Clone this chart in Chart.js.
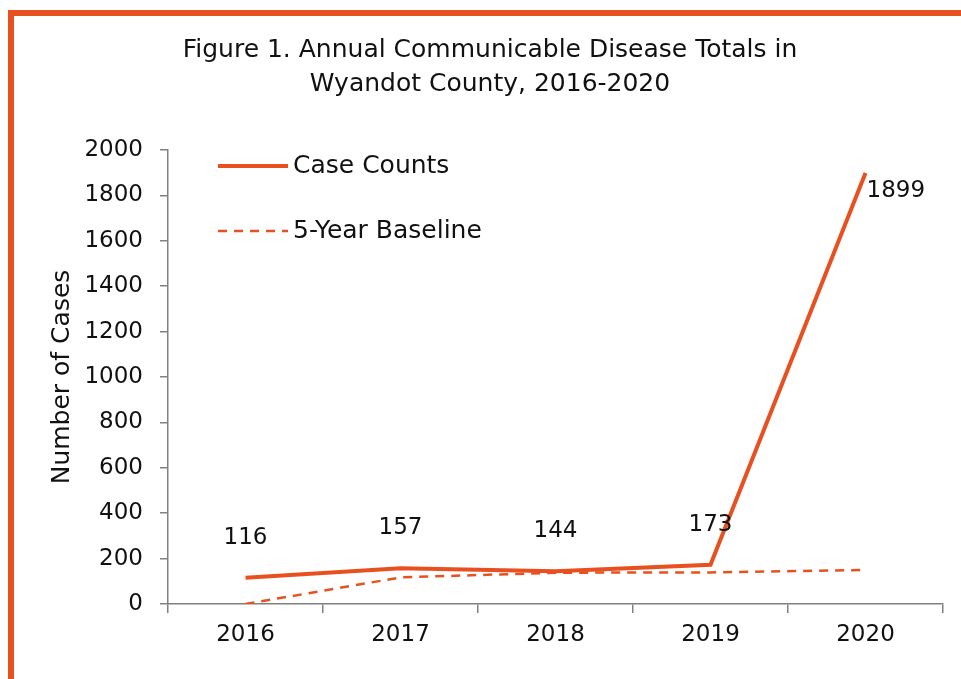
<!DOCTYPE html>
<html lang="en">
<head>
<meta charset="UTF-8">
<title>Wyandot County</title>
<script src="https://cdn.jsdelivr.net/npm/chart.js"></script>
<style>
    * { margin: 0; padding: 0; }
    body { background: #fff; width: 961px; height: 679px; overflow: hidden; position: relative; }
    .moldura {
        position: absolute;
        left: 8px;
        top: 10px;
        width: 1000px;
        height: 1000px;
        border-left: 6px solid #E9501F;
        border-top: 6px solid #E9501F;
    }
    .caixa { position: absolute; left: 0; top: 0; width: 961px; height: 679px; }
</style>
</head>
<body>
<div class="moldura"></div>
<div class="caixa"><canvas id="grafico" width="961" height="679"></canvas></div>
<script>
const anos = ['2016', '2017', '2018', '2019', '2020'];
const casos = [116, 157, 144, 173, 1899];
const baseline = [0, 117, 138, 139, 150];
const ticksY = [0, 200, 400, 600, 800, 1000, 1200, 1400, 1600, 1800, 2000];

const cor = '#E9501F';
const fonte = "'DejaVu Sans', sans-serif";

// rotulos de valor da serie Case Counts
const rotulos = {
    id: 'rotulos',
    afterDatasetsDraw(chart) {
        const ctx = chart.ctx;
        const meta = chart.getDatasetMeta(0);
        ctx.save();
        ctx.font = '23px ' + fonte;
        ctx.fillStyle = '#111';
        ctx.textBaseline = 'middle';
        meta.data.forEach((p, i) => {
            const v = casos[i];
            if (p.y < chart.chartArea.top + 60) {
                ctx.textAlign = 'left';
                ctx.fillText(v, p.x + 1, p.y + 18);
            } else {
                ctx.textAlign = 'center';
                ctx.fillText(v, p.x, p.y - 40);
            }
        });
        ctx.restore();
    }
};

// legenda dentro da area do grafico
const legenda = {
    id: 'legenda',
    afterDraw(chart) {
        const ctx = chart.ctx;
        const a = chart.chartArea;
        ctx.save();
        ctx.font = '25px ' + fonte;
        ctx.fillStyle = '#111';
        ctx.textBaseline = 'middle';
        chart.data.datasets.forEach((ds, i) => {
            const y = a.top + 16 + i * 65;
            const x = a.left + 50;
            ctx.beginPath();
            ctx.strokeStyle = ds.borderColor;
            ctx.lineWidth = ds.borderWidth;
            ctx.setLineDash(ds.borderDash || []);
            ctx.moveTo(x, y);
            ctx.lineTo(x + 70, y);
            ctx.stroke();
            ctx.setLineDash([]);
            ctx.fillText(ds.label, x + 75, y);
        });
        ctx.restore();
    }
};

new Chart(document.getElementById('grafico'), {
    type: 'line',
    data: {
        labels: anos,
        datasets: [{
            label: 'Case Counts',
            data: casos,
            borderColor: cor,
            borderWidth: 4,
            pointRadius: 0,
            tension: 0
        }, {
            label: '5-Year Baseline',
            data: baseline,
            borderColor: cor,
            borderWidth: 2.5,
            borderDash: [9, 7],
            pointRadius: 0,
            tension: 0
        }]
    },
    options: {
        responsive: false,
        animation: false,
        layout: { padding: { left: 37, right: 18, top: 0, bottom: 0 } },
        plugins: {
            legend: { display: false },
            tooltip: { enabled: false },
            title: {
                display: true,
                text: ['Figure 1. Annual Communicable Disease Totals in', 'Wyandot County, 2016-2020'],
                color: '#111',
                font: { family: fonte, size: 25, weight: 'normal', lineHeight: 1.36 },
                padding: { top: 33, bottom: 49 }
            }
        },
        scales: {
            x: {
                offset: true,
                grid: {
                    offset: true,
                    drawOnChartArea: false,
                    drawTicks: true,
                    tickLength: 9,
                    color: '#808080',
                    lineWidth: 1.5
                },
                border: { color: '#808080', width: 1.5 },
                ticks: { color: '#111', font: { family: fonte, size: 23 }, padding: 8 },
                afterFit(scale) { scale.height = 75; }
            },
            y: {
                min: 0,
                max: 2000,
                afterBuildTicks(scale) { scale.ticks = ticksY.map(v => ({ value: v })); },
                grid: {
                    drawOnChartArea: false,
                    drawTicks: true,
                    tickLength: 8,
                    color: '#808080',
                    lineWidth: 1.5
                },
                border: { color: '#808080', width: 1.5 },
                ticks: {
                    color: '#111',
                    font: { family: fonte, size: 23 },
                    padding: 17,
                    callback: v => String(v)
                },
                title: {
                    display: true,
                    text: 'Number of Cases',
                    color: '#111',
                    font: { family: fonte, size: 25 },
                    padding: { top: 10, bottom: 0 }
                },
                afterFit(scale) { scale.width = 131; }
            }
        }
    },
    plugins: [rotulos, legenda]
});
</script>
</body>
</html>
